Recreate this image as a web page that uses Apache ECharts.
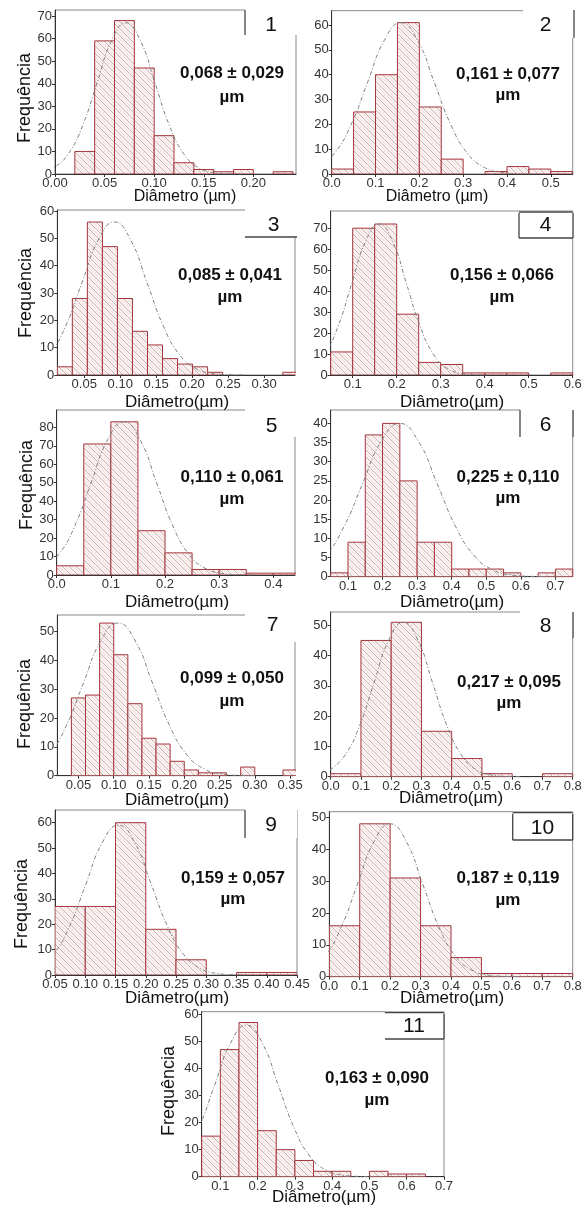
<!DOCTYPE html>
<html><head><meta charset="utf-8">
<script src="https://cdn.jsdelivr.net/npm/echarts@6/dist/echarts.min.js"></script>
<style>html,body{margin:0;padding:0;background:#fff}#c{width:586px;height:1209px}</style>
</head><body><div id="c"></div>
<script>
// ---------------- DATA ----------------
const binStarts = [0.02, 0, 0.0125, 0.05, 0, 0.05, 0.04, 0, 0.05, 0, 0.05];
const binWidths = [0.02, 0.05, 0.0209, 0.05, 0.05, 0.05, 0.02, 0.1, 0.05, 0.1, 0.05];

const p1Counts = [10, 59, 68, 47, 17, 5, 2, 1, 2, 0, 1];
const p2Counts = [2, 25, 40, 61, 27, 6, 0, 1, 3, 2, 1];
const p3Counts = [3, 28, 56, 47, 28, 16, 11, 6, 4, 3, 1, 0, 0, 0, 0, 1];
const p4Counts = [11, 70, 72, 29, 6, 5, 1, 1, 1, 0, 1];
const p5Counts = [5, 71, 83, 24, 12, 3, 3, 1, 1];
const p6Counts = [1, 9, 37, 40, 25, 9, 9, 2, 2, 2, 1, 0, 1, 2];
const p7Counts = [27, 28, 53, 42, 25, 13, 11, 5, 2, 1, 1, 0, 3, 0, 0, 2];
const p8Counts = [1, 45, 51, 15, 6, 1, 0, 1];
const p9Counts = [27, 27, 60, 18, 6, 0, 1, 1];
const p10Counts = [16, 48, 31, 16, 6, 1, 1, 1];
const p11Counts = [15, 47, 57, 17, 10, 6, 2, 2, 0, 2, 1, 1];

// fitted curves: [diameter, frequency]
const p1Curve = [[-0.0154,0.74],[-0.0009,2.94],[0.0136,9.07],[0.0281,21.75],[0.0426,40.64],[0.0571,59.13],[0.0716,67],[0.0861,59.13],[0.1006,40.64],[0.1151,21.75],[0.1296,9.07],[0.1441,2.94],[0.1586,0.74],[0.1731,0.15],[0.1876,0.02]];
const p2Curve = [[-0.07,0.68],[-0.032,2.68],[0.006,8.25],[0.044,19.8],[0.082,37.0],[0.12,53.8],[0.158,61],[0.196,53.8],[0.234,37.0],[0.272,19.8],[0.31,8.25],[0.348,2.68],[0.386,0.68],[0.424,0.13],[0.462,0.02]];
const p3Curve = [[-0.0205,2.46],[0.002,7.58],[0.0245,18.18],[0.047,33.96],[0.0695,49.42],[0.092,56],[0.1145,49.42],[0.137,33.96],[0.1595,18.18],[0.182,7.58],[0.2045,2.46],[0.227,0.62],[0.2495,0.12],[0.272,0.02]];
const p4Curve = [[0.005,3.16],[0.036,9.74],[0.067,23.4],[0.098,43.7],[0.129,63.5],[0.16,72],[0.191,63.5],[0.222,43.7],[0.253,23.4],[0.284,9.74],[0.315,3.16],[0.346,0.8],[0.377,0.16],[0.408,0.02]];
const p5Curve = [[-0.026,3.64],[0.004,11.23],[0.034,26.95],[0.064,50.34],[0.094,73.25],[0.124,83],[0.154,73.25],[0.184,50.34],[0.214,26.95],[0.244,11.23],[0.274,3.64],[0.304,0.92],[0.334,0.18],[0.364,0.03]];
const p6Curve = [[-0.02,1.76],[0.034,5.41],[0.088,12.99],[0.142,24.26],[0.196,35.3],[0.25,40],[0.304,35.3],[0.358,24.26],[0.412,12.99],[0.466,5.41],[0.52,1.76],[0.574,0.44],[0.628,0.09],[0.682,0.01]];
const p7Curve = [[-0.0165,2.33],[0.008,7.17],[0.0325,17.21],[0.057,32.14],[0.0815,46.77],[0.106,53],[0.1305,46.77],[0.155,32.14],[0.1795,17.21],[0.204,7.17],[0.2285,2.33],[0.253,0.59],[0.2775,0.12],[0.302,0.02]];
const p8Curve = [[-0.0025,2.24],[0.046,6.9],[0.0945,16.56],[0.143,30.93],[0.1915,45.01],[0.24,51],[0.2885,45.01],[0.337,30.93],[0.3855,16.56],[0.434,6.9],[0.4825,2.24],[0.531,0.57],[0.5795,0.11],[0.628,0.02]];
const p9Curve = [[0.02,2.59],[0.047,7.98],[0.074,19.16],[0.101,35.78],[0.128,52.07],[0.155,59],[0.182,52.07],[0.209,35.78],[0.236,19.16],[0.263,7.98],[0.29,2.59],[0.317,0.65],[0.344,0.13],[0.371,0.02]];
const p10Curve = [[-0.0675,2.1],[-0.014,6.49],[0.0395,15.59],[0.093,29.11],[0.1465,42.36],[0.2,48],[0.2535,42.36],[0.307,29.11],[0.3605,15.59],[0.414,6.49],[0.4675,2.1],[0.521,0.53],[0.5745,0.11],[0.628,0.01]];
const p11Curve = [[-0.0425,2.46],[0,7.58],[0.0425,18.18],[0.085,33.96],[0.1275,49.42],[0.17,56],[0.2125,49.42],[0.255,33.96],[0.2975,18.18],[0.34,7.58],[0.3825,2.46],[0.425,0.62],[0.4675,0.12],[0.51,0.02]];

// tick values
const xTicks = [
  [0, 0.05, 0.10, 0.15, 0.20],
  [0, 0.1, 0.2, 0.3, 0.4, 0.5],
  [0.05, 0.10, 0.15, 0.20, 0.25, 0.30],
  [0.1, 0.2, 0.3, 0.4, 0.5, 0.6],
  [0, 0.1, 0.2, 0.3, 0.4],
  [0.1, 0.2, 0.3, 0.4, 0.5, 0.6, 0.7],
  [0.05, 0.10, 0.15, 0.20, 0.25, 0.30, 0.35],
  [0, 0.1, 0.2, 0.3, 0.4, 0.5, 0.6, 0.7, 0.8],
  [0.05, 0.10, 0.15, 0.20, 0.25, 0.30, 0.35, 0.40, 0.45],
  [0, 0.1, 0.2, 0.3, 0.4, 0.5, 0.6, 0.7, 0.8],
  [0.1, 0.2, 0.3, 0.4, 0.5, 0.6, 0.7]
];
const yTicks = [
  [0,10,20,30,40,50,60,70],
  [0,10,20,30,40,50,60],
  [0,10,20,30,40,50,60],
  [0,10,20,30,40,50,60,70],
  [0,10,20,30,40,50,60,70,80],
  [0,5,10,15,20,25,30,35,40],
  [0,10,20,30,40,50],
  [0,10,20,30,40,50],
  [0,10,20,30,40,50,60],
  [0,10,20,30,40,50],
  [0,10,20,30,40,50,60]
];
const panelNumbers = ['1','2','3','4','5','6','7','8','9','10','11'];
const meanLabels = ['0,068 ± 0,029','0,161 ± 0,077','0,085 ± 0,041','0,156 ± 0,066','0,110 ± 0,061','0,225 ± 0,110','0,099 ± 0,050','0,217 ± 0,095','0,159 ± 0,057','0,187 ± 0,119','0,163 ± 0,090'];
const unitLabel = 'µm';
const xTitles = ['Diâmetro (µm)','Diâmetro (µm)','Diâmetro(µm)','Diâmetro(µm)','Diâmetro(µm)','Diâmetro(µm)','Diâmetro(µm)','Diâmetro(µm)','Diâmetro(µm)','Diâmetro(µm)','Diâmetro(µm)'];
const yTitle = 'Frequência';

const allCounts = [p1Counts,p2Counts,p3Counts,p4Counts,p5Counts,p6Counts,p7Counts,p8Counts,p9Counts,p10Counts,p11Counts];
const allCurves = [p1Curve,p2Curve,p3Curve,p4Curve,p5Curve,p6Curve,p7Curve,p8Curve,p9Curve,p10Curve,p11Curve];

// ---------------- LAYOUT ----------------
const layout = [
  {l:55,   t:10,    r:296,   b:174,   xMin:0,      xMax:0.243, yMax:72.7, dec:2},
  {l:331.7,t:10.7,  r:572.7, b:174,   xMin:0,      xMax:0.55,  yMax:65.8, dec:1},
  {l:57.3, t:210,   r:295,   b:375,   xMin:0.0125, xMax:0.343, yMax:60.4, dec:2},
  {l:330.7,t:211,   r:572.7, b:375,   xMin:0.05,   xMax:0.6,   yMax:78.2, dec:1},
  {l:56.7, t:410,   r:295,   b:575,   xMin:0,      xMax:0.44,  yMax:89.4, dec:1},
  {l:330.7,t:410,   r:572.7, b:576.7, xMin:0.05,   xMax:0.75,  yMax:43.5, dec:1},
  {l:57.3, t:615,   r:295,   b:775.7, xMin:0.02,   xMax:0.357, yMax:55.8, dec:2},
  {l:330.7,t:612,   r:572.7, b:776.7, xMin:0,      xMax:0.8,   yMax:54.4, dec:1},
  {l:55,   t:810,   r:297,   b:975,   xMin:0.05,   xMax:0.45,  yMax:65,   dec:2},
  {l:329.3,t:811.7, r:572.7, b:976.7, xMin:0,      xMax:0.8,   yMax:51.8, dec:1},
  {l:201.7,t:1011.7,r:444,   b:1176.7,xMin:0.05,   xMax:0.7,   yMax:61,   dec:1}
];
// number boxes: x0,y0,x1,y1, visible edges, number centre
const boxes = [
  {x0:245,y0:8,x1:297,y1:35, e:'l', nx:271,ny:25},
  {x0:523,y0:8,x1:574,y1:38, e:'r', nx:545.5,ny:25},
  {x0:245,y0:208,x1:297,y1:237, e:'b', nx:273.5,ny:225},
  {x0:519,y0:211,x1:573,y1:238, e:'tlrb', nx:545.5,ny:225},
  {x0:245,y0:408,x1:297,y1:437, e:'', nx:271.5,ny:426.5},
  {x0:520,y0:408,x1:573,y1:437, e:'lr', nx:545.5,ny:425.5},
  {x0:245,y0:613,x1:297,y1:642, e:'', nx:272.5,ny:625},
  {x0:520,y0:610,x1:573,y1:638, e:'r', nx:545.5,ny:626.5},
  {x0:245,y0:808,x1:297,y1:838, e:'l', nx:271,ny:825},
  {x0:512.7,y0:811.7,x1:572.7,y1:840, e:'tlrb', nx:542.5,ny:828.5},
  {x0:385,y0:1011.7,x1:444,y1:1039, e:'tbr', nx:414,ny:1026.5}
];
const annPos = [[232,73,97],[508,74,95],[230,275,297],[502,275,297],[232,477,499],[508,477,498],[232,678,701],[509,682,703],[233,878,899],[508,878,900],[377,1078,1100]];
const xTitlePos = [[185,197],[437,197],[177,402],[452,402],[177,602],[452,602],[177,800],[451,798],[177,998],[452,998],[324,1197]];
const yTitlePos = {0:[25,98],2:[26,293],4:[27,485],6:[25,704],8:[22.5,904],10:[169,1091]};

// ---------------- HATCH PATTERN ----------------
const pc = document.createElement('canvas');
const S = 7; pc.width = S; pc.height = S;
const ctx = pc.getContext('2d');
ctx.fillStyle = '#fdf3f3'; ctx.fillRect(0,0,S,S);
function diag(off, color, w){
  ctx.strokeStyle = color; ctx.lineWidth = w;
  for (const k of [-S, 0, S]) { ctx.beginPath(); ctx.moveTo(off+k, 0); ctx.lineTo(off+k+S, S); ctx.stroke(); }
}
diag(0, 'rgba(100,90,90,0.5)', 0.8);
diag(3.5, 'rgba(230,165,165,0.35)', 0.9);
const hatch = {image: pc, repeat: 'repeat'};

// ---------------- BUILD ----------------
const FONT = '"Liberation Sans", Arial, sans-serif';
const grids = [], xAxes = [], yAxes = [], series = [], elements = [];

layout.forEach((L, i) => {
  grids.push({left:L.l, top:L.t, width:L.r-L.l, height:L.b-L.t, show:true, borderColor:'#888', borderWidth:1, backgroundColor:'transparent'});
  xAxes.push({
    type:'value', gridIndex:i, min:L.xMin, max:L.xMax,
    axisLine:{show:true, onZero:false, lineStyle:{color:'#333', width:1}},
    axisTick:{show:true, length:3, customValues:xTicks[i], lineStyle:{color:'#333'}},
    axisLabel:{customValues:xTicks[i], formatter:v=>v.toFixed(L.dec), fontSize:13, color:'#333', margin:3, fontFamily:FONT},
    splitLine:{show:false}
  });
  yAxes.push({
    type:'value', gridIndex:i, min:0, max:L.yMax,
    axisLine:{show:true, lineStyle:{color:'#333', width:1}},
    axisTick:{show:true, length:3, customValues:yTicks[i], lineStyle:{color:'#333'}},
    axisLabel:{customValues:yTicks[i], formatter:v=>String(v), fontSize:13, color:'#333', margin:3, fontFamily:FONT},
    splitLine:{show:false}
  });
  const rows = allCounts[i].map((c, k) => [binStarts[i] + k*binWidths[i], binStarts[i] + (k+1)*binWidths[i], c]);
  series.push({
    type:'custom', xAxisIndex:i, yAxisIndex:i, clip:true, data:rows, encode:{x:[0,1], y:2}, z:2,
    renderItem:(params, api) => {
      const v = api.value(2);
      if (!v) return null;
      const a = api.coord([api.value(0), v]);
      const b = api.coord([api.value(1), 0]);
      return {type:'rect', shape:{x:a[0], y:a[1], width:b[0]-a[0], height:b[1]-a[1]},
              style:{fill:hatch, stroke:'#a3363c', lineWidth:1}};
    }
  });
  series.push({
    type:'line', xAxisIndex:i, yAxisIndex:i, data:allCurves[i], smooth:true, symbol:'none', clip:true, z:3,
    lineStyle:{color:'#808080', width:1, type:[4,2,1,2]}
  });

  // number box
  const B = boxes[i];
  elements.push({type:'rect', shape:{x:B.x0, y:B.y0, width:B.x1-B.x0, height:B.y1-B.y0}, style:{fill:'#fff'}, z:10});
  const ln = (x1,y1,x2,y2) => elements.push({type:'line', shape:{x1,y1,x2,y2}, style:{stroke:'#444', lineWidth:1.3}, z:11});
  if (B.e.includes('t')) ln(B.x0,B.y0+1,B.x1,B.y0+1);
  if (B.e.includes('l')) ln(B.x0,B.y0+2,B.x0,B.y1);
  if (B.e.includes('r')) ln(B.x1,B.y0+2,B.x1,B.y1);
  if (B.e.includes('b')) ln(B.x0,B.y1,B.x1,B.y1);
  elements.push({type:'text', x:B.nx, y:B.ny, style:{text:panelNumbers[i], font:'21px '+FONT, fill:'#111', align:'center', verticalAlign:'middle'}, z:12});

  // mean ± sd annotation
  const A = annPos[i];
  elements.push({type:'text', x:A[0], y:A[1], style:{text:meanLabels[i], font:'bold 17px '+FONT, fill:'#111', align:'center', verticalAlign:'middle'}, z:12});
  elements.push({type:'text', x:A[0], y:A[2], style:{text:unitLabel, font:'bold 17px '+FONT, fill:'#111', align:'center', verticalAlign:'middle'}, z:12});

  // axis titles
  const X = xTitlePos[i];
  elements.push({type:'text', x:X[0], y:X[1], style:{text:xTitles[i], font:(i<2?'16px ':'17px ')+FONT, fill:'#111', align:'center', verticalAlign:'middle'}, z:12});
  if (yTitlePos[i]) {
    const Y = yTitlePos[i];
    elements.push({type:'text', x:Y[0], y:Y[1], rotation:Math.PI/2, style:{text:yTitle, font:'18px '+FONT, fill:'#111', align:'center', verticalAlign:'middle'}, z:12});
  }
});

const chart = echarts.init(document.getElementById('c'), null, {renderer:'canvas'});
chart.setOption({
  animation:false,
  backgroundColor:'#fff',
  grid:grids, xAxis:xAxes, yAxis:yAxes, series:series,
  graphic:{elements:elements}
});
</script>
</body></html>
